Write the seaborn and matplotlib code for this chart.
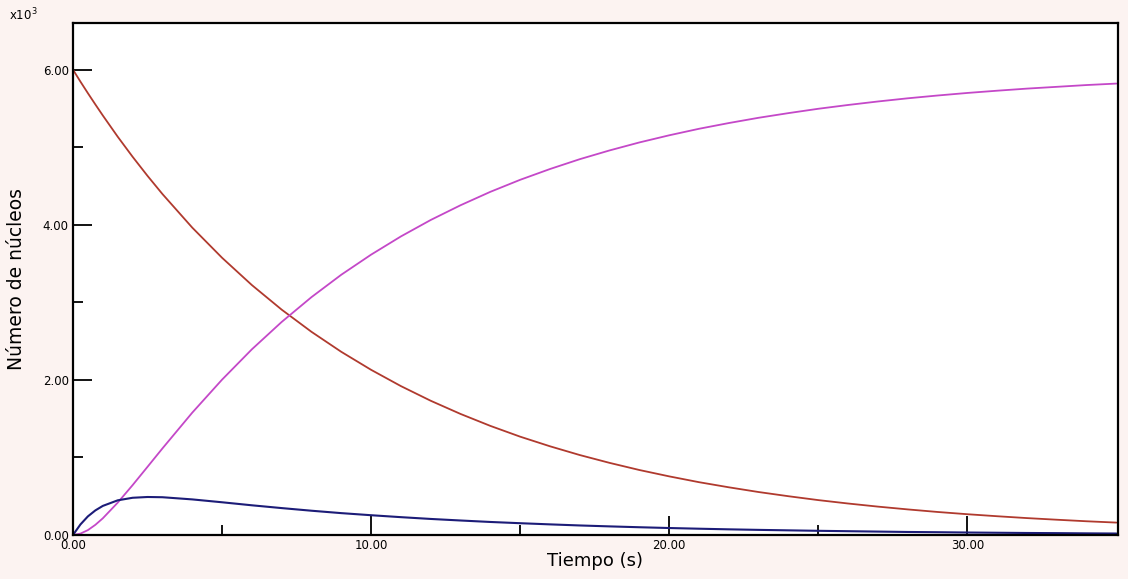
import numpy as np
import pandas as pd
import seaborn as sns
import matplotlib.pyplot as plt
from matplotlib.ticker import MultipleLocator, FixedLocator, FuncFormatter

# tiempo (s) y numero de nucleos
tiempo = [0, 0.25, 0.5, 0.75, 1, 1.5, 2, 2.5, 3, 4, 5, 6, 7, 8, 9, 10,
          11, 12, 13, 14, 15, 16, 17, 18, 19, 20, 21, 22, 23, 24, 25,
          26, 27, 28, 29, 30, 31, 32, 33, 34, 35]
padre = [6000, 5846, 5697, 5552, 5410, 5136, 4877, 4631, 4397, 3964, 3575, 3223,
         2906, 2620, 2362, 2130, 1920, 1731, 1561, 1407, 1268, 1144, 1031, 930,
         838, 756, 681, 615, 554, 500, 450, 406, 366, 330, 297, 268, 242, 218,
         197, 177, 160]
hijo = [0, 136, 240, 317, 375, 447, 480, 490, 487, 459, 422, 383,
        347, 313, 282, 255, 230, 207, 187, 168, 152, 137, 123, 111,
        100, 90, 81, 73, 66, 60, 54, 49, 44, 39, 36, 32, 29, 26,
        24, 21, 19]
nieto = [0, 18, 63, 131, 215, 417, 643, 879, 1116, 1577, 2003, 2394,
         2747, 3067, 3356, 3615, 3850, 4062, 4252, 4425, 4580, 4719, 4846, 4959,
         5062, 5154, 5238, 5312, 5380, 5440, 5496, 5545, 5590, 5631, 5667, 5700,
         5729, 5756, 5779, 5802, 5821]

df = pd.DataFrame({'t': tiempo, 'A': padre, 'B': hijo, 'C': nieto})

sns.set_style('white')
plt.rcParams['font.family'] = ['DejaVu Sans']

fig = plt.figure(figsize=(11.28, 5.79), dpi=100)
fig.patch.set_facecolor('#fcf3f1')
ax = fig.add_axes([0.0647, 0.076, 0.9263, 0.884])
ax.set_facecolor('white')

sns.lineplot(data=df, x='t', y='A', color='#b03a2e', linewidth=1.3, ax=ax)
sns.lineplot(data=df, x='t', y='C', color='#c448c8', linewidth=1.3, ax=ax)
sns.lineplot(data=df, x='t', y='B', color='#1c1c78', linewidth=1.5, ax=ax)

ax.set_xlim(0, 35.05)
ax.set_ylim(0, 6600)

ax.xaxis.set_major_locator(MultipleLocator(10))
ax.xaxis.set_minor_locator(FixedLocator([5, 15, 25]))
ax.yaxis.set_major_locator(MultipleLocator(2000))
ax.yaxis.set_minor_locator(FixedLocator([1000, 3000, 5000]))
ax.xaxis.set_major_formatter(FuncFormatter(lambda v, p: '%.2f' % v))
ax.yaxis.set_major_formatter(FuncFormatter(lambda v, p: '%.2f' % (v / 1000)))

ax.tick_params(which='both', bottom=True, left=True, top=False, right=False)
ax.tick_params(which='major', direction='in', length=14, width=1.3, labelsize=8.5,
               pad=3, colors='black')
ax.tick_params(which='minor', direction='in', length=7, width=1.3, colors='black')
for s in ax.spines.values():
    s.set_linewidth(1.6)
    s.set_color('black')

ax.set_xlabel('Tiempo (s)', fontsize=13, labelpad=0, color='black')
ax.set_ylabel('Número de núcleos', fontsize=13.5, labelpad=12, color='black')
fig.text(0.008, 0.965, r'x10$^3$', fontsize=8.5, color='black')

fig.savefig('out.png', dpi=100, facecolor=fig.get_facecolor())
